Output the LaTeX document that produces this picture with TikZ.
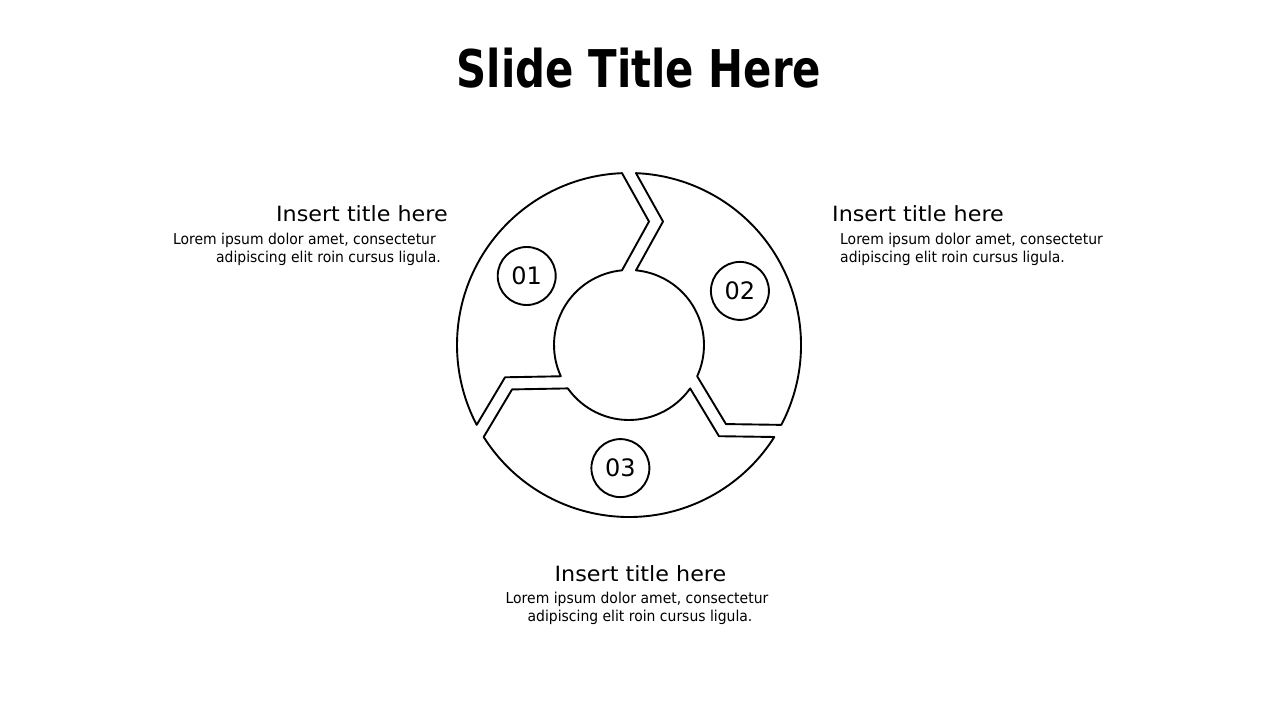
\documentclass[tikz,border=0pt]{standalone}
\usepackage{fontspec}
\setmainfont{DejaVu Sans}
\newfontfamily\titlefont[FakeStretch=0.805]{DejaVu Sans}
\newfontfamily\bodyfont[FakeStretch=0.93]{DejaVu Sans}
\newfontfamily\headfont[FakeStretch=1.06]{DejaVu Sans}
\newfontfamily\numfont{DejaVu Sans}
\begin{document}
\begin{tikzpicture}[x=1pt,y=-1pt,
  seg/.style={draw=black, line width=1.9pt, line join=round, fill=white},
  num/.style={circle, draw=black, line width=1.9pt, minimum size=58pt, inner sep=0pt, font=\numfont\fontsize{24}{27}\selectfont},
  head/.style={inner sep=0pt, font=\headfont\fontsize{21}{25}\selectfont},
  body/.style={inner sep=0pt, font=\bodyfont\fontsize{15}{18}\selectfont},
  ttl/.style={inner sep=0pt, font=\titlefont\bfseries\fontsize{52}{60}\selectfont}]
\useasboundingbox (0,0) rectangle (1280,720);
\fill[white] (0,0) rectangle (1280,720);
\node[ttl, anchor=base] (title) at (639,87.5) {Slide Title Here};
\begin{scope}[shift={(629,345)}]
 \begin{scope}[yscale=-1]
  \foreach \r in {0,-120,120} {
   \begin{scope}[rotate=\r]
    \draw[seg] (92.33:172) arc[start angle=92.33, end angle=207.67, radius=172]
      -- (194.6:128.1) -- (204.64:75)
      arc[start angle=204.64, end angle=95.36, radius=75]
      -- (80.8:125.1) -- cycle;
   \end{scope}
  }
  \node[num] (n1) at (146:123.4) {01};
  \node[num] (n2) at (26:123.4) {02};
  \node[num] (n3) at (-94:123.4) {03};
 \end{scope}
\end{scope}
% left block
\node[head, anchor=base east] (t1) at (448,221) {Insert title here};
\node[body, anchor=base east] (b1a) at (436,244.3) {Lorem ipsum dolor amet, consectetur};
\node[body, anchor=base east] (b1b) at (441,262.7) {adipiscing elit roin cursus ligula.};
% right block
\node[head, anchor=base west] (t2) at (832,221) {Insert title here};
\node[body, anchor=base west] (b2a) at (840,244.3) {Lorem ipsum dolor amet, consectetur};
\node[body, anchor=base west] (b2b) at (840,262.7) {adipiscing elit roin cursus ligula.};
% bottom block
\node[head, anchor=base] (t3) at (640.5,581.5) {Insert title here};
\node[body, anchor=base] (b3a) at (637,603.3) {Lorem ipsum dolor amet, consectetur};
\node[body, anchor=base] (b3b) at (640,621.7) {adipiscing elit roin cursus ligula.};
\end{tikzpicture}
\end{document}
